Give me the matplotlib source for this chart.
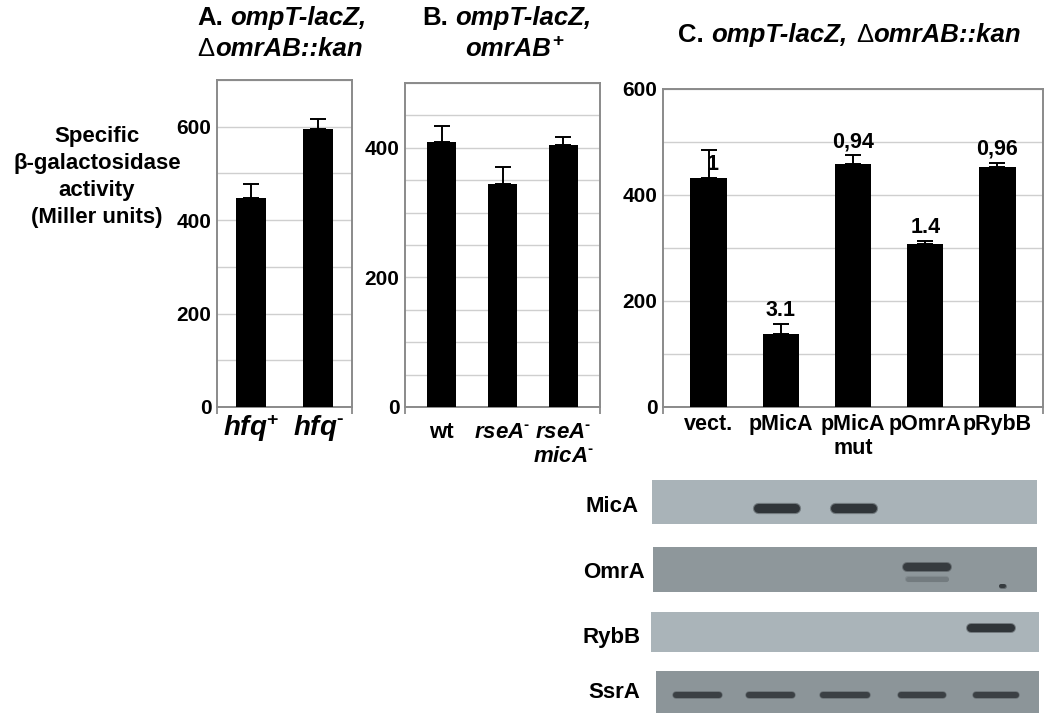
import matplotlib
matplotlib.use("Agg")
import matplotlib.pyplot as plt
import numpy as np

plt.rcParams['font.family'] = ['Liberation Sans', 'DejaVu Sans']
plt.rcParams['mathtext.fontset'] = 'custom'
plt.rcParams['mathtext.rm'] = 'Liberation Sans'
plt.rcParams['mathtext.it'] = 'Liberation Sans:italic'
plt.rcParams['mathtext.bf'] = 'Liberation Sans:bold'
plt.rcParams['mathtext.bfit'] = 'Liberation Sans:bold:italic'

# ---------------- data ----------------
a_labels = [r"$\mathbfit{hfq}^{\mathbf{+}}$", "$\\mathbfit{hfq}^{\\mathbf{\u2010}}$"]
a_values = [447, 596]
a_err = [31, 20]

b_labels = ["wt", "$\\mathbfit{rseA}^{\\mathbf{\u2010}}$",
            "$\\mathbfit{rseA}^{\\mathbf{\u2010}}$\n$\\mathbfit{micA}^{\\mathbf{\u2010}}$"]
b_values = [409, 344, 404]
b_err = [25, 26, 12]

c_labels = ["vect.", "pMicA", "pMicA\nmut", "pOmrA", "pRybB"]
c_values = [432, 138, 459, 308, 453]
c_err = [52, 19, 16, 6, 8]
c_fold = ["1", "3.1", "0,94", "1.4", "0,96"]

blot_names = ["MicA", "OmrA", "RybB", "SsrA"]
blot_bg = ['#a9b3b8', '#8e979b', '#aab4b9', '#8c9599']
# (lane position, height fraction, width in lanes, thickness px, colour)
blot_bands = [
    [(1.10, 0.36, 0.62, 9, '#303539'), (2.12, 0.36, 0.62, 9, '#303539')],
    [(3.09, 0.56, 0.64, 8, '#363b3f'), (3.09, 0.30, 0.58, 5, '#737b7f'),
     (4.09, 0.13, 0.10, 4, '#363b3f')],
    [(3.92, 0.60, 0.62, 8, '#303539')],
    [(0.00, 0.43, 0.65, 6, '#3b4044'), (0.98, 0.43, 0.65, 6, '#3b4044'),
     (1.97, 0.43, 0.66, 6, '#3b4044'), (2.99, 0.43, 0.64, 6, '#3b4044'),
     (3.98, 0.43, 0.62, 6, '#3b4044')],
]

# ---------------- figure ----------------
W, H = 1050, 721
fig = plt.figure(figsize=(W / 100, H / 100), dpi=100)
fig.patch.set_facecolor('white')


def px_axes(x0, y0, x1, y1):
    return fig.add_axes([x0 / W, 1 - y1 / H, (x1 - x0) / W, (y1 - y0) / H])


SPINE = '#8a8a8a'
GRID = '#cfcfcf'


def style_bar_axes(ax, ylim, ystep, ylabels_step, xlim, labels, lab_size, pad):
    ax.set_ylim(*ylim)
    ax.set_xlim(*xlim)
    ticks = np.arange(0, ylim[1] + 1, ylabels_step)
    ax.set_yticks(ticks)
    ax.set_yticklabels([str(int(v)) for v in ticks], fontsize=15, fontweight='bold')
    ax.set_yticks(np.arange(0, ylim[1] + 1, ystep), minor=True)
    ax.yaxis.grid(True, which='both', color=GRID, lw=1.0)
    ax.set_axisbelow(True)
    ax.tick_params(axis='y', which='both', length=0, pad=4)
    ax.set_xticks(range(len(labels)))
    ax.set_xticklabels(labels, fontsize=lab_size, fontweight='bold')
    ax.tick_params(axis='x', which='major', length=0, pad=pad)
    ax.set_xticks(list(xlim), minor=True)
    ax.tick_params(axis='x', which='minor', length=5, color=SPINE, width=1.3)
    for s in ax.spines.values():
        s.set_color(SPINE)
        s.set_linewidth(1.4)


def bars(ax, values, err, width):
    x = np.arange(len(values))
    ax.bar(x, values, width=width, color='black', zorder=3)
    ax.errorbar(x, values, yerr=[np.zeros(len(err)), err], fmt='none',
                ecolor='black', elinewidth=1.4, capsize=5.5, capthick=1.4, zorder=4)


# Panel A
axA = px_axes(217, 80, 352, 407)
bars(axA, a_values, a_err, 0.45)
style_bar_axes(axA, (0, 700), 100, 200, (-0.5, 1.5), a_labels, 20, 4)

# Panel B
axB = px_axes(405, 83, 600, 407)
bars(axB, b_values, b_err, 0.47)
style_bar_axes(axB, (0, 500), 50, 200, (-0.6, 2.6), b_labels, 16, 11)

# Panel C
axC = px_axes(663, 89, 1043, 407)
bars(axC, c_values, c_err, 0.5)
style_bar_axes(axC, (0, 600), 100, 200, (-0.63, 4.63), c_labels, 15.5, 5)
for i, t in enumerate(c_fold):
    if i == 0:
        axC.annotate(t, xy=(i, c_values[i]), xytext=(3, 2), textcoords='offset points',
                     ha='center', va='bottom', fontsize=15.5, fontweight='bold', zorder=5)
    else:
        axC.annotate(t, xy=(i, c_values[i] + c_err[i]), xytext=(0, 2),
                     textcoords='offset points', ha='center', va='bottom',
                     fontsize=15.5, fontweight='bold', zorder=5)

# Y label
fig.text(97 / W, 1 - 177 / H, "Specific\n\u03b2-galactosidase\nactivity\n(Miller units)",
         ha='center', va='center', multialignment='center', fontsize=16,
         fontweight='bold', linespacing=1.36)

# Titles (pieces chained left to right on a shared baseline)
TS = 18.5


def chain(x, y_base, pieces):
    first = pieces[0]
    t = fig.text(x / W, 1 - y_base / H, first[0], ha='left', va='baseline',
                 fontsize=TS, fontweight='normal' if first[1] == 'sym' else 'bold',
                 fontstyle='italic' if first[1] == 'it' else 'normal')
    for txt, style, gap in pieces[1:]:
        dy = 0
        size = TS
        if style == 'sup':
            dy = 8
            size = TS * 0.75
        t = axA.annotate(
            txt, xy=(1, 0), xycoords=t, xytext=(gap, dy), textcoords='offset points',
            ha='left', va='bottom', annotation_clip=False, fontsize=size,
            fontweight='normal' if style == 'sym' else 'bold',
            fontstyle='italic' if style == 'it' else 'normal')
    return t


chain(197, 25, [("A.", 'bf', 0), ("ompT-lacZ,", 'it', 5)])
chain(197, 56, [("\u0394", 'sym', 0), ("omrAB::kan", 'it', 0.5)])
chain(422, 25, [("B.", 'bf', 0), ("ompT-lacZ,", 'it', 5)])
chain(465, 56, [("omrAB", 'it', 0), ("+", 'sup', 1)])
chain(678, 42, [("C.", 'bf', 0), ("ompT-lacZ,", 'it', 5.5), ("\u0394", 'sym', 6),
                ("omrAB::kan", 'it', 0.5)])

# Blots
blot_boxes = [(652, 480, 1037, 524), (653, 547, 1037, 592),
              (651, 612, 1039, 652), (656, 671, 1039, 713)]
label_pos = [(612, 506), (614, 573), (612, 637), (614, 693)]
for name, bg, bands, box, lp in zip(blot_names, blot_bg, blot_bands, blot_boxes, label_pos):
    ax = px_axes(*box)
    ax.set_facecolor(bg)
    ax.set_xlim(-0.55, 4.55)
    ax.set_ylim(0, 1)
    ax.set_xticks([])
    ax.set_yticks([])
    for s in ax.spines.values():
        s.set_visible(False)
    lane_px = (box[2] - box[0]) / 5.1
    for (xc, yc, w, th, col) in bands:
        half = max(w / 2 - (th / 2) / lane_px, 0.0)
        lw_pt = th * 72 / 100
        ax.plot([xc - half, xc + half], [yc, yc], color=col, alpha=0.45,
                lw=lw_pt * 1.25, solid_capstyle='round')
        ax.plot([xc - half, xc + half], [yc, yc], color=col,
                lw=lw_pt, solid_capstyle='round')
    fig.text(lp[0] / W, 1 - lp[1] / H, name, ha='center', va='center',
             fontsize=16, fontweight='bold')

fig.savefig("out.png", dpi=100, facecolor='white')
